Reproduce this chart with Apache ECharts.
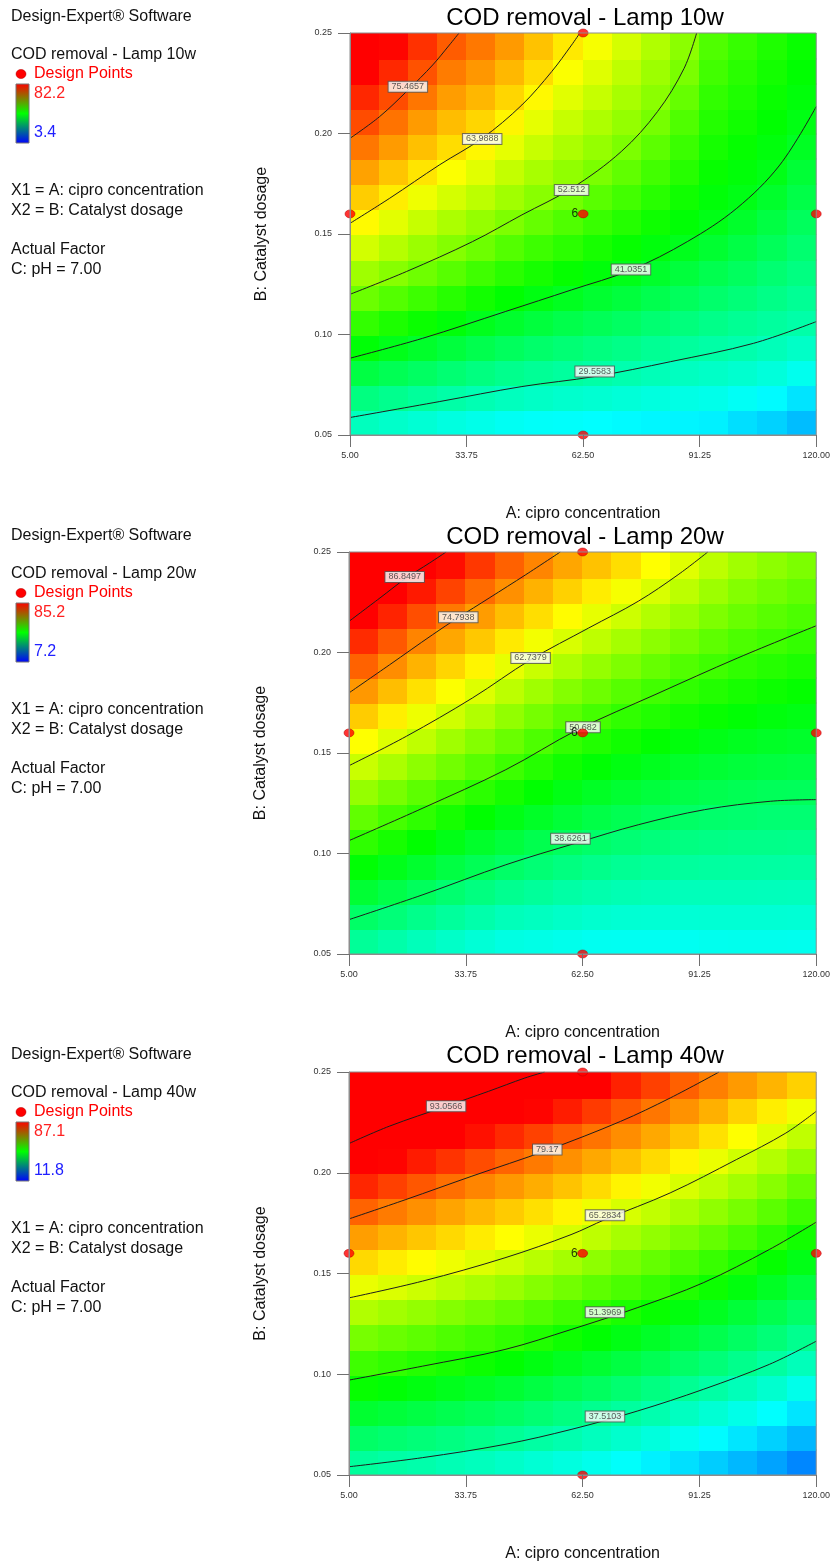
<!DOCTYPE html>
<html>
<head>
<meta charset="utf-8">
<script src="https://cdn.jsdelivr.net/npm/echarts@6.0.0/dist/echarts.min.js"></script>
<style>
html,body{margin:0;padding:0;background:#ffffff;}
#chart{width:833px;height:1567px;}
</style>
</head>
<body>
<div id="chart"></div>
<script>
// ---------------- data ----------------
const xTicks = [5, 33.75, 62.5, 91.25, 120];
const yTicks = [0.05, 0.10, 0.15, 0.20, 0.25];
const xName = 'A: cipro concentration';
const yName = 'B: Catalyst dosage';
const softwareLabel = 'Design-Expert® Software';
const responseNames = ['COD removal - Lamp 10w', 'COD removal - Lamp 20w', 'COD removal - Lamp 40w'];
const rangeHigh = [82.2, 85.2, 87.1];
const rangeLow = [3.4, 7.2, 11.8];
const factorLines = ['X1 = A: cipro concentration', 'X2 = B: Catalyst dosage', 'Actual Factor', 'C: pH = 7.00'];
const designPoints = [[5, 0.16], [62.5, 0.25], [62.5, 0.16], [120, 0.16], [62.5, 0.05]];
const centerPoint = [62.5, 0.16];
const centerReplicates = '6';

// cell centres of the estimated response grid
const cellX = [8.59, 15.78, 22.97, 30.16, 37.34, 44.53, 51.72, 58.91, 66.09, 73.28, 80.47, 87.66, 94.84, 102.03, 109.22, 116.41];
const cellY = [0.05625, 0.06875, 0.08125, 0.09375, 0.10625, 0.11875, 0.13125, 0.14375, 0.15625, 0.16875, 0.18125, 0.19375, 0.20625, 0.21875, 0.23125, 0.24375];

// Lamp 10w : rows follow cellY (bottom to top), columns follow cellX
const p1Values = [
  [28.1, 27.2, 26.4, 25.5, 24.8, 24.0, 23.6, 23.4, 23.1, 22.8, 22.5, 22.3, 22.0, 20.6, 19.6, 18.0],
  [32.9, 31.8, 30.8, 29.9, 29.0, 28.1, 27.5, 27.0, 26.6, 26.1, 25.6, 25.1, 24.7, 23.8, 22.8, 21.0],
  [37.6, 36.3, 35.2, 34.0, 32.9, 31.9, 31.2, 30.6, 30.0, 29.3, 28.6, 28.0, 27.4, 26.8, 25.9, 24.4],
  [42.3, 40.9, 39.5, 38.1, 36.8, 35.6, 34.6, 33.8, 33.0, 32.3, 31.4, 30.7, 30.0, 29.4, 28.5, 27.4],
  [46.7, 45.0, 43.6, 42.1, 40.6, 39.3, 38.1, 37.0, 36.1, 35.2, 34.1, 33.2, 32.2, 31.4, 30.6, 29.8],
  [51.1, 49.2, 47.5, 45.8, 44.2, 42.7, 41.5, 40.3, 39.1, 38.1, 36.8, 35.7, 34.5, 33.5, 32.4, 31.3],
  [55.1, 53.2, 51.3, 49.5, 47.7, 46.0, 44.5, 43.2, 42.0, 41.0, 39.5, 38.2, 36.7, 35.5, 34.1, 32.8],
  [59.0, 56.8, 54.8, 53.0, 51.2, 49.2, 47.5, 46.1, 44.6, 43.3, 41.9, 40.6, 39.0, 37.5, 35.9, 34.2],
  [62.9, 60.3, 58.1, 56.1, 54.3, 52.5, 50.6, 48.9, 47.1, 45.6, 43.9, 42.4, 41.1, 39.5, 37.6, 35.7],
  [66.4, 63.9, 61.3, 59.2, 57.3, 55.2, 53.4, 51.8, 49.7, 47.9, 45.9, 44.0, 42.2, 41.2, 39.4, 37.2],
  [69.7, 67.0, 64.5, 62.3, 60.2, 57.9, 55.8, 54.0, 52.3, 50.2, 47.9, 45.7, 43.3, 42.2, 41.1, 38.6],
  [73.0, 70.2, 67.4, 65.1, 63.1, 60.6, 58.2, 56.1, 54.3, 52.4, 49.9, 47.3, 44.4, 43.2, 41.9, 40.1],
  [76.3, 73.3, 70.2, 67.6, 65.7, 63.3, 60.6, 58.1, 56.2, 54.2, 51.9, 48.9, 45.5, 44.1, 42.7, 41.3],
  [79.2, 76.3, 73.1, 70.1, 68.1, 65.7, 63.0, 60.2, 58.1, 55.8, 53.5, 50.6, 46.6, 45.1, 43.5, 42.0],
  [82.1, 79.1, 75.9, 72.6, 70.5, 68.0, 65.2, 62.2, 60.0, 57.5, 54.9, 52.2, 47.8, 46.0, 44.3, 42.7],
  [85.0, 81.8, 78.4, 75.1, 72.9, 70.3, 67.2, 64.2, 61.9, 59.2, 56.4, 53.5, 48.9, 47.0, 45.1, 43.4]
];
// Lamp 20w
const p2Values = [
  [34.6, 33.3, 32.0, 30.9, 29.8, 28.9, 28.6, 28.2, 27.8, 27.7, 27.7, 27.7, 28.0, 28.1, 28.1, 28.0],
  [38.4, 37.0, 35.6, 34.3, 33.1, 32.0, 31.5, 30.9, 30.4, 30.1, 30.0, 29.9, 30.0, 30.0, 30.0, 29.9],
  [42.2, 40.6, 39.2, 37.7, 36.4, 35.2, 34.4, 33.6, 33.0, 32.5, 32.2, 32.0, 32.0, 32.0, 31.9, 31.8],
  [45.9, 44.2, 42.7, 41.1, 39.7, 38.3, 37.3, 36.4, 35.6, 34.9, 34.5, 34.2, 34.0, 33.9, 33.8, 33.7],
  [49.7, 47.9, 46.2, 44.5, 42.9, 41.5, 40.2, 39.1, 38.2, 37.4, 36.8, 36.3, 36.0, 35.8, 35.7, 35.6],
  [53.6, 51.5, 49.7, 47.9, 46.2, 44.6, 43.2, 41.9, 40.8, 39.9, 39.1, 38.5, 38.0, 37.8, 37.5, 37.5],
  [57.6, 55.4, 53.3, 51.3, 49.5, 47.8, 46.1, 44.6, 43.4, 42.4, 41.5, 40.8, 40.2, 39.8, 39.4, 39.3],
  [61.6, 59.3, 57.0, 54.9, 52.9, 50.9, 49.0, 47.4, 46.0, 44.9, 43.9, 43.0, 42.3, 41.8, 41.4, 41.1],
  [65.6, 63.1, 60.8, 58.4, 56.3, 54.2, 52.1, 50.1, 48.7, 47.4, 46.3, 45.3, 44.5, 43.8, 43.3, 42.9],
  [69.6, 66.9, 64.4, 62.0, 59.7, 57.4, 55.2, 53.2, 51.4, 49.9, 48.7, 47.6, 46.7, 45.9, 45.2, 44.7],
  [73.6, 70.7, 68.0, 65.5, 63.1, 60.6, 58.4, 56.3, 54.5, 52.8, 51.2, 49.9, 48.8, 47.9, 47.1, 46.5],
  [77.7, 74.4, 71.5, 68.9, 66.5, 63.9, 61.6, 59.5, 57.6, 55.8, 54.0, 52.4, 51.0, 49.9, 49.0, 48.3],
  [81.9, 78.5, 75.1, 72.4, 69.9, 67.3, 64.8, 62.7, 60.7, 58.8, 56.9, 55.2, 53.4, 52.0, 51.0, 50.1],
  [86.1, 82.5, 79.2, 76.0, 73.3, 70.7, 68.2, 65.9, 63.9, 61.9, 59.8, 57.9, 55.8, 54.2, 53.0, 52.0],
  [90.4, 86.6, 83.3, 80.1, 77.0, 74.2, 71.6, 69.2, 67.1, 65.0, 62.7, 60.6, 58.2, 56.3, 55.0, 53.8],
  [94.7, 90.9, 87.4, 84.2, 81.0, 77.8, 75.0, 72.5, 70.4, 68.2, 65.7, 63.3, 60.6, 58.5, 57.0, 55.7]
];
// Lamp 40w
const p3Values = [
  [37.9, 37.3, 36.8, 36.1, 35.5, 34.7, 33.8, 33.0, 32.0, 30.9, 29.6, 28.3, 26.9, 25.4, 23.8, 21.8],
  [41.9, 41.2, 40.6, 39.9, 39.2, 38.4, 37.4, 36.5, 35.4, 34.3, 33.1, 31.7, 30.4, 28.8, 27.2, 25.3],
  [45.9, 45.2, 44.4, 43.6, 42.9, 42.1, 41.0, 40.0, 38.9, 37.8, 36.5, 35.2, 33.8, 32.3, 30.7, 28.7],
  [49.9, 49.1, 48.3, 47.4, 46.6, 45.7, 44.6, 43.5, 42.4, 41.2, 39.9, 38.6, 37.3, 35.8, 34.2, 32.2],
  [54.0, 53.1, 52.1, 51.2, 50.3, 49.4, 48.2, 47.0, 45.8, 44.6, 43.3, 41.9, 40.6, 39.1, 37.6, 35.7],
  [58.2, 57.2, 56.3, 55.2, 54.2, 53.1, 51.8, 50.5, 49.3, 48.0, 46.6, 45.2, 43.8, 42.2, 40.7, 38.9],
  [62.5, 61.4, 60.4, 59.2, 58.1, 56.9, 55.6, 54.2, 52.8, 51.4, 50.0, 48.5, 47.0, 45.3, 43.7, 41.9],
  [66.7, 65.6, 64.5, 63.2, 62.0, 60.8, 59.3, 57.9, 56.3, 54.9, 53.4, 51.9, 50.3, 48.5, 46.8, 44.9],
  [71.1, 69.7, 68.5, 67.1, 65.8, 64.6, 63.0, 61.6, 59.9, 58.4, 56.8, 55.2, 53.5, 51.6, 49.8, 47.8],
  [75.4, 73.9, 72.5, 71.1, 69.7, 68.3, 66.8, 65.3, 63.5, 61.8, 60.2, 58.6, 56.8, 54.9, 52.9, 50.8],
  [79.8, 78.0, 76.5, 75.0, 73.5, 72.1, 70.6, 69.0, 67.1, 65.3, 63.7, 61.9, 60.1, 58.2, 56.2, 54.0],
  [84.3, 82.4, 80.7, 78.9, 77.3, 75.9, 74.3, 72.7, 70.9, 69.1, 67.3, 65.3, 63.4, 61.5, 59.5, 57.2],
  [88.9, 86.9, 85.1, 83.3, 81.5, 79.7, 78.1, 76.5, 74.7, 72.9, 71.0, 69.0, 66.8, 64.7, 62.7, 60.4],
  [93.5, 91.3, 89.5, 87.7, 85.9, 84.1, 82.3, 80.4, 78.5, 76.7, 74.7, 72.6, 70.5, 68.2, 66.0, 63.6],
  [98.2, 95.8, 94.0, 92.1, 90.3, 88.5, 86.8, 85.0, 82.8, 80.6, 78.4, 76.3, 74.1, 71.6, 69.5, 67.3],
  [102.9, 100.4, 98.5, 96.7, 94.8, 92.9, 91.2, 89.6, 87.1, 84.7, 82.4, 80.0, 77.7, 75.7, 73.8, 71.7]
];

// contour levels, traced contour lines and label anchors
const p1Levels = [29.5583, 41.0351, 52.512, 63.9888, 75.4657];
const p1Lines = [
  [[5,0.0587],[27,0.0666],[47.4,0.0741],[65.35,0.0791],[84.1,0.0865],[104.5,0.0956],[120,0.1064]],
  [[5,0.0882],[22.9,0.0981],[43.3,0.1114],[59.65,0.1222],[74.3,0.1321],[88.2,0.1462],[100.4,0.1628],[111,0.1843],[120,0.2134]],
  [[5,0.120],[18.9,0.1313],[35.2,0.1462],[47.4,0.1595],[59.65,0.1727],[71.9,0.191],[80.85,0.2109],[87.4,0.2324],[90.5,0.25]],
  [[5,0.1553],[14.8,0.1678],[27,0.1843],[37.6,0.1976],[47.4,0.2142],[54.75,0.2308],[59.65,0.244],[61.7,0.25]],
  [[5,0.1976],[12.3,0.2084],[19.3,0.2216],[25.4,0.2341],[29.5,0.244],[31.9,0.25]]
];
const p1LabelAt = [[65.35,0.0816],[74.3,0.1324],[59.65,0.1719],[37.6,0.1973],[19.27,0.2233]];

const p2Levels = [38.6261, 50.682, 62.7379, 74.7938, 86.8497];
const p2Lines = [
  [[5,0.0671],[23.2,0.0795],[43.6,0.0944],[60.9,0.1052],[76.2,0.1143],[92.5,0.1218],[108.8,0.126],[120,0.1268]],
  [[5,0.1064],[23.2,0.1226],[43.6,0.1417],[61.3,0.1616],[80.3,0.179],[100.7,0.1973],[120,0.2133]],
  [[5,0.1437],[19.1,0.1583],[35.4,0.1774],[49.7,0.1964],[64,0.2122],[76.2,0.2255],[86,0.2387],[93.3,0.25]],
  [[5,0.1799],[15,0.1939],[25.6,0.2089],[31.75,0.2172],[39.5,0.2271],[48.5,0.2387],[57,0.25]],
  [[5,0.2155],[12.6,0.2271],[19.1,0.2371],[24.8,0.2445],[28.9,0.25]]
];
const p2LabelAt = [[59.5,0.1074],[62.6,0.1628],[49.7,0.1973],[31.9,0.2175],[18.7,0.2376]];

const p3Levels = [37.5103, 51.3969, 65.2834, 79.17, 93.0566];
const p3Lines = [
  [[5,0.0541],[23.06,0.0586],[43.39,0.0652],[59.65,0.0726],[75.92,0.0817],[92.19,0.0925],[108.45,0.1049],[120,0.1164]],
  [[5,0.0971],[23.06,0.104],[43.39,0.1123],[59.65,0.1222],[75.92,0.133],[92.19,0.1454],[108.45,0.1619],[120,0.1755]],
  [[5,0.1379],[23.06,0.1462],[43.39,0.1578],[59.65,0.1693],[68.03,0.1768],[84.05,0.19],[100.32,0.2065],[112.52,0.2197],[120,0.2305]],
  [[5,0.1771],[18.99,0.1867],[35.25,0.1983],[53.8,0.2112],[71.85,0.2255],[84.05,0.2371],[96.09,0.25]],
  [[5,0.2145],[14.92,0.2231],[28.91,0.233],[39.32,0.2404],[48.27,0.247],[53.15,0.25]]
];
const p3LabelAt = [[68.0,0.0790],[68.0,0.1308],[68.0,0.1789],[53.8,0.2115],[28.9,0.233]];

// ---------------- layout & style ----------------
const FONT = '"Liberation Sans", Arial, Helvetica, sans-serif';
const RAMP = ['#0000ff', '#00ffff', '#00ff00', '#ffff00', '#ff0000'];
const panelLayout = [
  { left: 350, top: 33, width: 470, height: 402, off: 0 },
  { left: 349, top: 552, width: 470, height: 402, off: 519 },
  { left: 349, top: 1072, width: 471, height: 403, off: 1038 }
];
const panelValues = [p1Values, p2Values, p3Values];
const panelLevels = [p1Levels, p2Levels, p3Levels];
const panelLines = [p1Lines, p2Lines, p3Lines];
const panelLabelAt = [p1LabelAt, p2LabelAt, p3LabelAt];

const xMin = xTicks[0], xMax = xTicks[xTicks.length - 1];
const yMin = yTicks[0], yMax = yTicks[yTicks.length - 1];
const halfW = (xMax - xMin) / cellX.length / 2;
const halfH = (yMax - yMin) / cellY.length / 2;

function renderCell(params, api) {
  const x = api.value(0), y = api.value(1);
  const a = api.coord([x - halfW, y + halfH]);
  const b = api.coord([x + halfW, y - halfH]);
  const cs = params.coordSys;
  const x0 = Math.max(cs.x, Math.floor(a[0]));
  const y0 = Math.max(cs.y, Math.floor(a[1]));
  const x1 = Math.min(cs.x + cs.width, Math.ceil(b[0]) + 1);
  const y1 = Math.min(cs.y + cs.height, Math.ceil(b[1]) + 1);
  return {
    type: 'rect',
    shape: { x: x0, y: y0, width: x1 - x0, height: y1 - y0 },
    style: { fill: api.visual('color') }
  };
}

const grids = [], xAxes = [], yAxes = [], series = [], visualMaps = [], graphics = [];
const HIDDEN = 'rgba(0,0,0,0)';

panelLayout.forEach((L, k) => {
  grids.push({ left: L.left, top: L.top, width: L.width, height: L.height,
    show: true, borderColor: '#8c8c8c', borderWidth: 1, backgroundColor: 'transparent', z: 10 });
  xAxes.push({
    gridIndex: k, type: 'value', min: xMin, max: xMax,
    name: xName, nameLocation: 'middle', nameGap: 71,
    nameTextStyle: { fontSize: 16, color: '#111', fontFamily: FONT },
    axisLine: { show: true, lineStyle: { color: '#8c8c8c', width: 1 } },
    axisTick: { show: true, length: 12, customValues: xTicks, lineStyle: { color: '#707070' } },
    axisLabel: { customValues: xTicks, formatter: v => Number(v).toFixed(2), fontSize: 9, color: '#333', margin: 16, fontFamily: FONT },
    splitLine: { show: false }, z: 10
  });
  yAxes.push({
    gridIndex: k, type: 'value', min: yMin, max: yMax,
    name: yName, nameLocation: 'middle', nameGap: 80, nameRotate: 90,
    nameTextStyle: { fontSize: 16, color: '#111', fontFamily: FONT },
    axisLine: { show: true, lineStyle: { color: '#8c8c8c', width: 1 } },
    axisTick: { show: true, length: 12, customValues: yTicks, lineStyle: { color: '#707070' } },
    axisLabel: { customValues: yTicks, formatter: v => Number(v).toFixed(2), fontSize: 9, color: '#333', margin: 18, fontFamily: FONT },
    splitLine: { show: false }, z: 10
  });

  // response surface cells
  const vals = panelValues[k];
  const cells = [];
  cellY.forEach((yy, j) => cellX.forEach((xx, i) => cells.push([xx, yy, vals[j][i]])));
  const cellSeriesIndex = series.length;
  series.push({
    type: 'custom', xAxisIndex: k, yAxisIndex: k, data: cells,
    dimensions: ['x', 'y', 'v'], encode: { x: 0, y: 1 },
    renderItem: renderCell, silent: true, z: 1
  });
  visualMaps.push({
    type: 'continuous', show: false, seriesIndex: cellSeriesIndex, dimension: 2,
    min: rangeLow[k], max: rangeHigh[k], inRange: { color: RAMP }
  });

  // contour lines
  panelLines[k].forEach(line => {
    series.push({
      type: 'line', xAxisIndex: k, yAxisIndex: k, data: line,
      symbol: 'none', smooth: 0.35, silent: true, z: 3,
      lineStyle: { color: '#1e1e1e', width: 1 }
    });
  });

  // contour value labels
  series.push({
    type: 'scatter', xAxisIndex: k, yAxisIndex: k, silent: true, z: 5,
    data: panelLabelAt[k].map((p, i) => [p[0], p[1], panelLevels[k][i]]),
    symbol: 'circle', symbolSize: 2, itemStyle: { color: HIDDEN },
    label: {
      show: true, position: 'inside', formatter: p => String(p.data[2]),
      fontSize: 9, color: '#333', fontFamily: FONT,
      backgroundColor: '#ffffff', borderColor: '#555555', borderWidth: 1,
      padding: [1, 3, 0, 3], lineHeight: 9
    }
  });

  // design points
  series.push({
    type: 'scatter', xAxisIndex: k, yAxisIndex: k, data: designPoints, clip: false,
    symbol: 'circle', symbolSize: [10, 8], silent: true, z: 8,
    itemStyle: { color: '#ff0000', borderColor: '#b00000', borderWidth: 0.6 }
  });
  series.push({
    type: 'scatter', xAxisIndex: k, yAxisIndex: k, data: [centerPoint], silent: true, z: 9,
    symbol: 'circle', symbolSize: 10, itemStyle: { color: HIDDEN },
    label: { show: true, position: 'left', distance: 0, formatter: centerReplicates,
      fontSize: 12, color: '#000', fontFamily: FONT }
  });

  // titles and side legend
  const o = L.off;
  const txt = (text, x, y, size, fill, align) => ({
    type: 'text', silent: true,
    style: { text, x, y, fill, fontSize: size, fontFamily: FONT,
      align: align || 'left', textAlign: align || 'left', verticalAlign: 'middle', textVerticalAlign: 'middle' }
  });
  graphics.push(txt(responseNames[k], 585, 18 + o, 24, '#000', 'center'));
  graphics.push(txt(softwareLabel, 11, 16.5 + o, 16, '#111'));
  graphics.push(txt(responseNames[k], 11, 55 + o, 16, '#111'));
  graphics.push({ type: 'ellipse', silent: true, shape: { cx: 21, cy: 74 + o, rx: 5, ry: 4.5 },
    style: { fill: '#ff0000', stroke: '#b00000', lineWidth: 0.5 } });
  graphics.push(txt('Design Points', 34, 74 + o, 16, '#ff0000'));
  graphics.push({ type: 'rect', silent: true, shape: { x: 16, y: 84 + o, width: 13, height: 59 },
    style: { stroke: '#777', lineWidth: 1,
      fill: { type: 'linear', x: 0, y: 0, x2: 0, y2: 1,
        colorStops: [{ offset: 0, color: '#ff0000' }, { offset: 0.5, color: '#00ff00' }, { offset: 1, color: '#0000ff' }] } } });
  graphics.push(txt(rangeHigh[k].toFixed(1), 34, 94 + o, 16, '#ff2020'));
  graphics.push(txt(rangeLow[k].toFixed(1), 34, 133 + o, 16, '#2020ff'));
  graphics.push(txt(factorLines[0], 11, 191 + o, 16, '#111'));
  graphics.push(txt(factorLines[1], 11, 211 + o, 16, '#111'));
  graphics.push(txt(factorLines[2], 11, 250 + o, 16, '#111'));
  graphics.push(txt(factorLines[3], 11, 269.5 + o, 16, '#111'));
});

const chart = echarts.init(document.getElementById('chart'), null, { renderer: 'canvas' });
chart.setOption({
  animation: false,
  backgroundColor: '#ffffff',
  textStyle: { fontFamily: FONT },
  grid: grids, xAxis: xAxes, yAxis: yAxes,
  visualMap: visualMaps,
  series: series,
  graphic: { elements: graphics }
});
</script>
</body>
</html>
